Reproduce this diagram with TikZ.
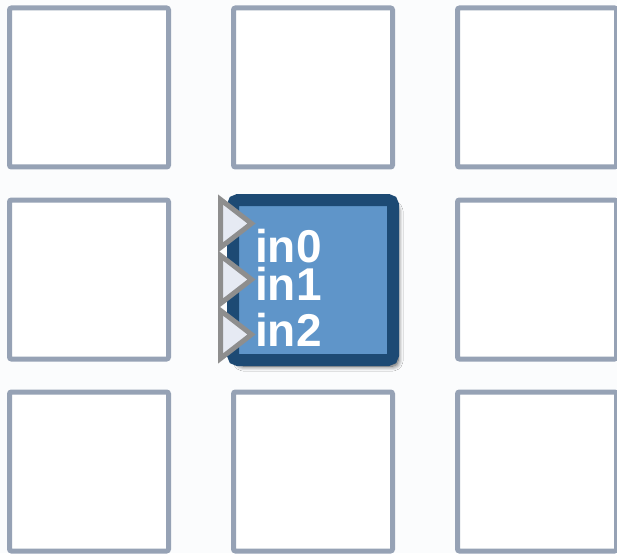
\documentclass[tikz,border=0pt]{standalone}
\usepackage{fontspec}
\setmainfont{Liberation Sans}
\usepackage{xcolor}
\usetikzlibrary{shapes.geometric,shadows.blur}
\definecolor{pageBg}{HTML}{FBFCFD}
\definecolor{cellLine}{HTML}{96A2B5}
\definecolor{blockFill}{HTML}{5F95C9}
\definecolor{blockLine}{HTML}{1D4A74}
\definecolor{portFill}{HTML}{E6EAF3}
\definecolor{portLine}{HTML}{8E8E8E}
\tikzset{
  cellbox/.style={rectangle, rounded corners=2pt, draw=cellLine, fill=white, line width=5pt, minimum width=159pt, minimum height=159pt, inner sep=0pt},
  blockbox/.style={rectangle, rounded corners=5pt, draw=blockLine, fill=blockFill, line width=12pt, minimum width=160pt, minimum height=160pt, inner sep=0pt, blur shadow={shadow xshift=5pt, shadow yshift=-6pt, shadow blur radius=5pt, shadow blur steps=10, shadow opacity=70}},
  portin/.style={isosceles triangle, isosceles triangle stretches, draw=portLine, fill=portFill, line width=5pt, minimum width=48pt, minimum height=31pt, inner sep=0pt, anchor=west},
  portlabel/.style={font=\fontsize{46}{46}\selectfont\bfseries, text=white, anchor=base west, inner sep=0pt},
}

\begin{document}
\begin{tikzpicture}[x=1pt,y=-1pt]
  \fill[pageBg] (0,0) rectangle (617,553);
  \useasboundingbox (0,0) rectangle (617,553);

  % grid of empty cells
  \foreach \r/\y in {1/87.5,2/279.5,3/471.5} {
    \foreach \c/\x in {1/89,2/313,3/537} {
      \ifnum\r\c=22\else
        \node[cellbox] (cell\r\c) at (\x,\y) {};
      \fi
    }
  }

  % the block in the middle
  \node[blockbox] (block) at (313,280) {};

  \node[portin] (port0) at (218,223.5) {};
  \node[portin] (port1) at (218,279.5) {};
  \node[portin] (port2) at (218,334.5) {};

  \node[portlabel] (lab0) at (255,262) {in0};
  \node[portlabel] (lab1) at (255,300) {in1};
  \node[portlabel] (lab2) at (255,346) {in2};
\end{tikzpicture}
\end{document}
